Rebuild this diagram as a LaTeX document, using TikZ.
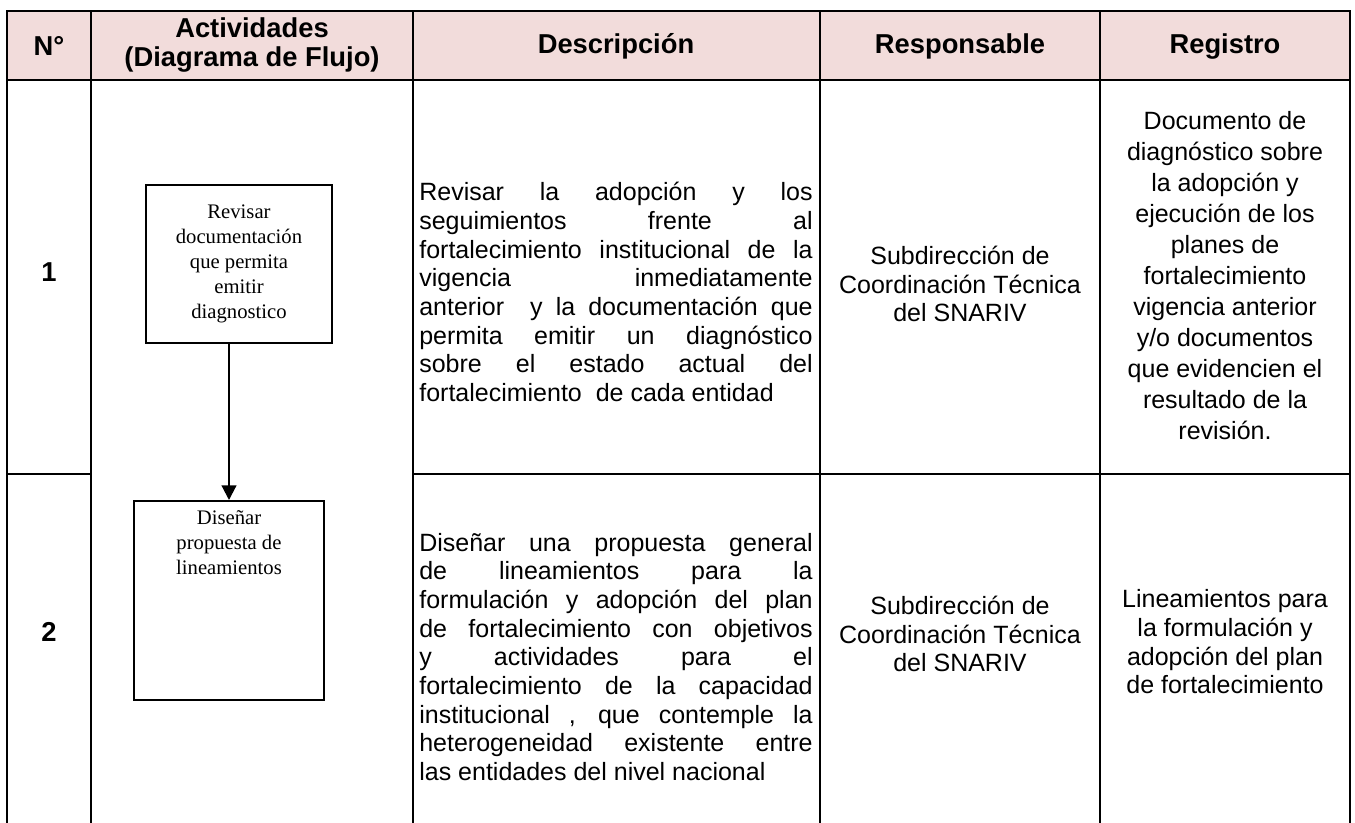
\documentclass[tikz,border=0pt]{standalone}
\usepackage{fontspec}
\setmainfont{Liberation Sans}
\newfontfamily\boxfont{Liberation Serif}
\usetikzlibrary{arrows.meta,positioning}
\definecolor{headpink}{HTML}{F2DCDB}
\newlength{\dw}
\setlength{\dw}{295pt}
\newcommand{\jl}[1]{\makebox[\dw][s]{#1}\\}
\tikzset{
  grid/.style={line width=2.2pt, line cap=rect},
  head/.style={font=\fontsize{20.5}{21.5}\selectfont\bfseries, align=center},
  body/.style={font=\fontsize{18.75}{21.5}\selectfont, align=center},
  desc/.style={font=\fontsize{18.75}{21.5}\selectfont, align=left, inner sep=0pt},
  actbox/.style={draw, line width=1.5pt, font=\boxfont\fontsize{15.5}{18.75}\selectfont, align=center},
  flow/.style={line width=1.6pt, -{Triangle[width=11pt,length=11pt]}}
}
\begin{document}
\begin{tikzpicture}[x=0.75pt,y=-0.75pt]
\useasboundingbox (0,0) rectangle (1355,822);
\fill[headpink] (7,11) rectangle (1350,80);
\draw[grid] (7,11) -- (1350,11);
\draw[grid] (7,80) -- (1350,80);
\draw[grid] (7,474) -- (91,474);
\draw[grid] (413,474) -- (1350,474);
\foreach \cx in {7,91,413,820,1100,1350}
  \draw[grid] (\cx,11) -- (\cx,830);

\node[head] (hnum) at (49,46) {N°};
\node[head] (hact) at (252,45) {Actividades\\(Diagrama de Flujo)};
\node[head] (hdesc) at (616,46) {Descripción};
\node[head] (hresp) at (960,46) {Responsable};
\node[head] (hreg) at (1225,46) {Registro};

\node[head] (num1) at (49,272) {1};
\node[head] (num2) at (49,632) {2};

% diagrama de flujo
\node[actbox, minimum width=139.5pt, minimum height=118.5pt] (b1) at (239,264)
  {Revisar\\documentación\\que permita\\emitir\\diagnostico};
\node[actbox, minimum width=142.5pt, minimum height=149.25pt] (b2) at (229,600.5) {};
\node[actbox, draw=none, anchor=north] (t2) at ([yshift=-4pt]b2.north)
  {Diseñar\\propuesta de\\lineamientos};
\draw[flow] (b1.south -| b2.north) -- (b2.north);

% fila 1
\node[desc] (d1) at (616,292) {\jl{Revisar la adopción y los}\jl{seguimientos frente al}%
\jl{fortalecimiento institucional de la}\jl{vigencia inmediatamente}%
\jl{anterior \ y la documentación que}\jl{permita emitir un diagnóstico}%
\jl{sobre el estado actual del}\makebox[\dw][l]{fortalecimiento \ de cada entidad}};
\node[body] (r1) at (960,284) {Subdirección de\\Coordinación Técnica\\del SNARIV};
\node[body, font=\fontsize{18.75}{23.25}\selectfont] (g1) at (1225,276) {Documento de\\diagnóstico sobre\\la adopción y\\ejecución de los\\planes de\\fortalecimiento\\vigencia anterior\\y/o documentos\\que evidencien el\\resultado de la\\revisión.};

% fila 2
\node[desc] (d2) at (616,657) {\jl{Diseñar una propuesta general}\jl{de lineamientos para la}%
\jl{formulación y adopción del plan}\jl{de fortalecimiento con objetivos}%
\jl{y actividades para el}\jl{fortalecimiento de la capacidad}%
\jl{institucional , que contemple la}\jl{heterogeneidad existente entre}%
\makebox[\dw][l]{las entidades del nivel nacional}};
\node[body] (r2) at (960,634) {Subdirección de\\Coordinación Técnica\\del SNARIV};
\node[body] (g2) at (1225,642) {Lineamientos para\\la formulación y\\adopción del plan\\de fortalecimiento};
\end{tikzpicture}
\end{document}
